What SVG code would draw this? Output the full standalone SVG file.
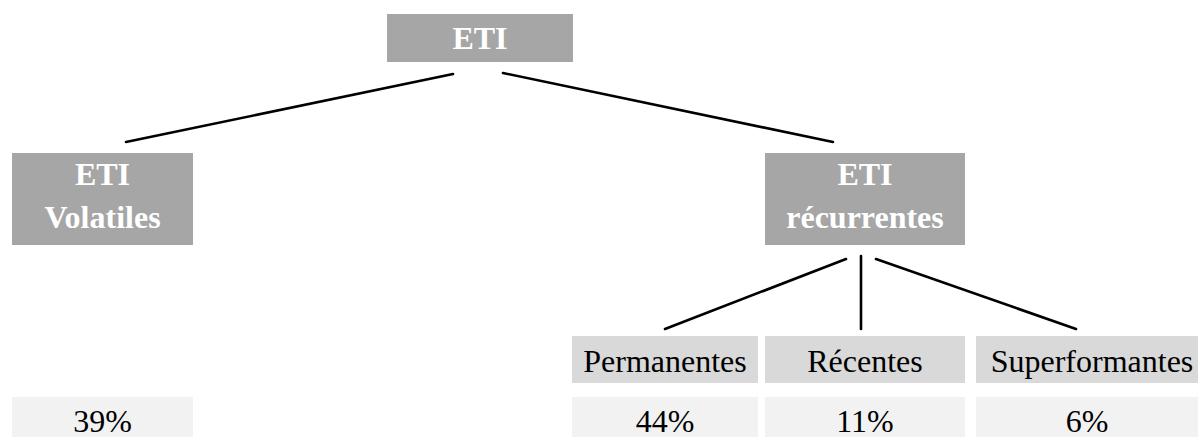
<svg xmlns="http://www.w3.org/2000/svg" width="1198" height="437" viewBox="0 0 1198 437">
<style>
.head{fill:#a6a6a6}
.sub{fill:#d9d9d9}
.pct{fill:#f2f2f2}
text{font-family:'Liberation Serif','Tinos','DejaVu Serif',serif;font-size:32px;text-anchor:middle}
.ht{font-weight:bold;fill:#ffffff}
.t{fill:#000000}
.c{stroke:#000;stroke-width:2.6;fill:none;stroke-linecap:round}
</style>
<rect width="1198" height="437" fill="#ffffff"/>
<g id="connectors">
<line class="c" x1="453" y1="74" x2="126" y2="142"/>
<line class="c" x1="503" y1="73" x2="833" y2="142"/>
<line class="c" x1="846" y1="259" x2="665" y2="329"/>
<line class="c" x1="861" y1="256" x2="861" y2="329"/>
<line class="c" x1="876" y1="259" x2="1076" y2="329"/>
</g>
<g id="eti">
<rect class="head" x="387" y="14" width="186" height="48"/>
<text class="ht" x="480" y="49">ETI</text>
</g>
<g id="volatiles">
<rect class="head" x="12" y="153" width="181" height="92"/>
<text class="ht" x="102.5" y="185">ETI</text>
<text class="ht" x="102.5" y="228">Volatiles</text>
</g>
<g id="recurrentes">
<rect class="head" x="765" y="153" width="200" height="92"/>
<text class="ht" x="865" y="185">ETI</text>
<text class="ht" x="865" y="228">récurrentes</text>
</g>
<g id="permanentes">
<rect class="sub" x="572" y="336" width="186" height="47"/>
<text class="t" x="665" y="372">Permanentes</text>
</g>
<g id="recentes">
<rect class="sub" x="765" y="336" width="200" height="47"/>
<text class="t" x="865" y="372">Récentes</text>
</g>
<g id="superformantes">
<rect class="sub" x="976" y="336" width="222" height="47"/>
<text class="t" x="1092" y="372">Superformantes</text>
</g>
<g id="pct-volatiles">
<rect class="pct" x="12" y="397" width="181" height="40"/>
<text class="t" x="102.5" y="432">39%</text>
</g>
<g id="pct-permanentes">
<rect class="pct" x="572" y="397" width="186" height="40"/>
<text class="t" x="665" y="432">44%</text>
</g>
<g id="pct-recentes">
<rect class="pct" x="765" y="397" width="200" height="40"/>
<text class="t" x="865" y="432">11%</text>
</g>
<g id="pct-superformantes">
<rect class="pct" x="976" y="397" width="222" height="40"/>
<text class="t" x="1087" y="432">6%</text>
</g>
</svg>
